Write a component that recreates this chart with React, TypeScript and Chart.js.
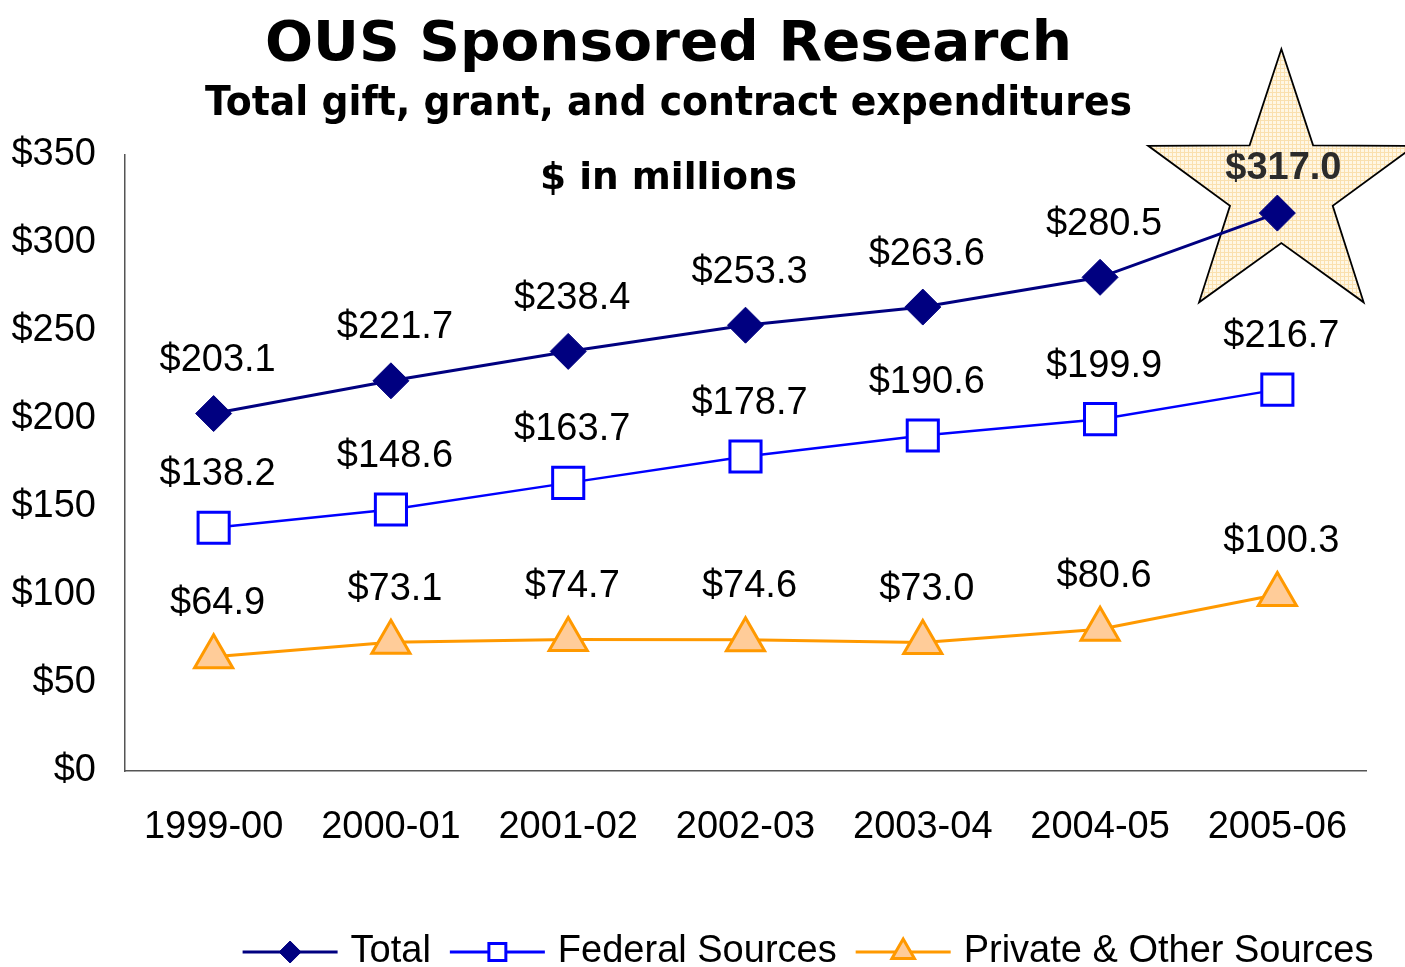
import React, { useEffect, useRef } from 'react';
import { Chart, registerables } from 'chart.js';
import { drawPoint } from 'chart.js/helpers';

Chart.register(...registerables);

const categories = ['1999-00', '2000-01', '2001-02', '2002-03', '2003-04', '2004-05', '2005-06'];
const totalValues = [203.1, 221.7, 238.4, 253.3, 263.6, 280.5, 317.0];
const federalValues = [138.2, 148.6, 163.7, 178.7, 190.6, 199.9, 216.7];
const privateValues = [64.9, 73.1, 74.7, 74.6, 73.0, 80.6, 100.3];
const yTickValues = [0, 50, 100, 150, 200, 250, 300, 350];
const seriesNames = ['Total', 'Federal Sources', 'Private & Other Sources'];
const titleText = 'OUS Sponsored Research';
const subtitleText = 'Total gift, grant, and contract expenditures';
const unitText = '$ in millions';

const W = 1405;
const H = 967;
const ARIAL = '"Liberation Sans", Arial, sans-serif';
const VERDANA = '"DejaVu Sans", Verdana, sans-serif';

const money = (v: number) => '$' + v.toFixed(1);

function fittedText(ctx: CanvasRenderingContext2D, text: string, cx: number, y: number, font: string, targetW: number, color: string) {
  ctx.save();
  ctx.font = font;
  ctx.fillStyle = color;
  ctx.textAlign = 'center';
  ctx.textBaseline = 'alphabetic';
  const w = ctx.measureText(text).width;
  const sx = targetW / w;
  ctx.translate(cx, y);
  ctx.scale(sx, 1);
  ctx.fillText(text, 0, 0);
  ctx.restore();
}

function makePattern(ctx: CanvasRenderingContext2D) {
  const c = document.createElement('canvas');
  c.width = 4;
  c.height = 4;
  const p = c.getContext('2d')!;
  p.fillStyle = '#FFF7E4';
  p.fillRect(0, 0, 4, 4);
  p.fillStyle = '#FAE0AE';
  p.fillRect(0, 0, 4, 1);
  p.fillRect(0, 0, 1, 4);
  return ctx.createPattern(c, 'repeat');
}

const decorPlugin = {
  id: 'decor',
  beforeDatasetsDraw(chart: any) {
    const ctx: CanvasRenderingContext2D = chart.ctx;
    const meta = chart.getDatasetMeta(0);
    const last = meta.data[meta.data.length - 1];
    if (!last) return;
    const cx = last.x + 4;
    const cy = last.y - 24;
    const R = 140;
    const r = 54;
    ctx.save();
    ctx.beginPath();
    for (let i = 0; i < 10; i++) {
      const ang = -Math.PI / 2 + (i * Math.PI) / 5;
      const rad = i % 2 === 0 ? R : r;
      const px = cx + Math.cos(ang) * rad;
      const py = cy + Math.sin(ang) * rad;
      if (i === 0) ctx.moveTo(px, py);
      else ctx.lineTo(px, py);
    }
    ctx.closePath();
    ctx.fillStyle = makePattern(ctx) || '#FCEBC6';
    ctx.fill();
    ctx.lineWidth = 1.8;
    ctx.strokeStyle = '#000000';
    ctx.stroke();
    ctx.restore();
  },
  afterDatasetsDraw(chart: any) {
    const ctx: CanvasRenderingContext2D = chart.ctx;
    ctx.save();
    ctx.textAlign = 'center';
    ctx.textBaseline = 'middle';
    chart.data.datasets.forEach((ds: any, di: number) => {
      const meta = chart.getDatasetMeta(di);
      meta.data.forEach((pt: any, i: number) => {
        const v = ds.data[i] as number;
        if (di === 0 && i === ds.data.length - 1) {
          ctx.font = `bold 38px ${ARIAL}`;
          ctx.fillStyle = '#2B2B2B';
          ctx.fillText(money(v), pt.x + 6, pt.y - 45);
        } else {
          ctx.font = `38px ${ARIAL}`;
          ctx.fillStyle = '#000000';
          ctx.fillText(money(v), pt.x + 4, pt.y - 53);
        }
      });
    });
    ctx.restore();
  },
  afterDraw(chart: any) {
    const ctx: CanvasRenderingContext2D = chart.ctx;
    fittedText(ctx, titleText, 668.5, 60, `bold 56px ${VERDANA}`, 807, '#000000');
    fittedText(ctx, subtitleText, 668.5, 115, `bold 40px ${VERDANA}`, 927, '#000000');
    fittedText(ctx, unitText, 668.5, 189, `bold 38px ${VERDANA}`, 257, '#000000');

    // legend
    const legendMarkers = [
      { style: 'rectRot', radius: 11 },
      { style: 'rect', radius: 12 },
      { style: 'triangle', radius: 13 },
    ];
    ctx.save();
    ctx.font = `38px ${ARIAL}`;
    const lineW = 95;
    const gapText = 13;
    const gapItem = 19;
    const widths = seriesNames.map((n) => ctx.measureText(n).width);
    let total = 0;
    widths.forEach((w, i) => {
      total += lineW + gapText + w + (i < widths.length - 1 ? gapItem : 0);
    });
    let x = 808 - total / 2;
    const y = 952;
    chart.data.datasets.forEach((ds: any, i: number) => {
      ctx.strokeStyle = ds.borderColor;
      ctx.lineWidth = 3;
      ctx.beginPath();
      ctx.moveTo(x, y);
      ctx.lineTo(x + lineW, y);
      ctx.stroke();
      ctx.fillStyle = ds.pointBackgroundColor;
      ctx.strokeStyle = ds.pointBorderColor;
      ctx.lineWidth = ds.pointBorderWidth;
      drawPoint(ctx, { pointStyle: legendMarkers[i].style as any, radius: legendMarkers[i].radius, rotation: 0, borderWidth: ds.pointBorderWidth }, x + lineW / 2, y);
      ctx.fillStyle = '#000000';
      ctx.textAlign = 'left';
      ctx.textBaseline = 'middle';
      ctx.fillText(seriesNames[i], x + lineW + gapText, y);
      x += lineW + gapText + widths[i] + gapItem;
    });
    ctx.restore();
  },
};

export default function App() {
  const canvasRef = useRef<HTMLCanvasElement | null>(null);

  useEffect(() => {
    document.body.style.margin = '0';
    document.body.style.overflow = 'hidden';
    const canvas = canvasRef.current;
    if (!canvas) return;
    const chart = new Chart(canvas, {
      type: 'line',
      data: {
        labels: categories,
        datasets: [
          {
            label: seriesNames[0],
            data: totalValues,
            borderColor: '#000080',
            borderWidth: 3,
            pointStyle: 'rectRot',
            pointRadius: 18,
            pointHoverRadius: 18,
            pointBackgroundColor: '#000080',
            pointBorderColor: '#000080',
            pointBorderWidth: 1,
            tension: 0,
          },
          {
            label: seriesNames[1],
            data: federalValues,
            borderColor: '#0000FF',
            borderWidth: 2.5,
            pointStyle: 'rect',
            pointRadius: 22,
            pointHoverRadius: 22,
            pointBackgroundColor: '#FFFFFF',
            pointBorderColor: '#0000FF',
            pointBorderWidth: 3,
            tension: 0,
          },
          {
            label: seriesNames[2],
            data: privateValues,
            borderColor: '#FF9900',
            borderWidth: 3,
            pointStyle: 'triangle',
            pointRadius: 22,
            pointHoverRadius: 22,
            pointBackgroundColor: '#FFCC99',
            pointBorderColor: '#FF9900',
            pointBorderWidth: 3,
            tension: 0,
          },
        ],
      },
      options: {
        responsive: false,
        animation: false,
        layout: { padding: { top: 155, right: 39, bottom: 0, left: 0 } },
        plugins: {
          legend: { display: false },
          title: { display: false },
          tooltip: { enabled: false },
        },
        scales: {
          x: {
            offset: true,
            grid: { display: false, drawTicks: false },
            border: { display: true, color: '#555555', width: 1.5 },
            ticks: { color: '#000000', font: { family: ARIAL, size: 38 }, padding: 34, maxRotation: 0, autoSkip: false },
            afterFit: (scale: any) => {
              scale.height = 196;
            },
          },
          y: {
            min: 0,
            max: 350,
            afterBuildTicks: (scale: any) => {
              scale.ticks = yTickValues.map((v) => ({ value: v }));
            },
            grid: { display: false, drawTicks: false },
            border: { display: true, color: '#555555', width: 1.5 },
            ticks: {
              color: '#000000',
              font: { family: ARIAL, size: 38 },
              padding: 29,
              callback: (v: any) => '$' + v,
            },
            afterFit: (scale: any) => {
              scale.width = 125;
            },
          },
        },
      },
      plugins: [decorPlugin],
    });
    return () => chart.destroy();
  }, []);

  return <canvas ref={canvasRef} width={W} height={H} style={{ display: 'block', width: W, height: H }} />;
}
